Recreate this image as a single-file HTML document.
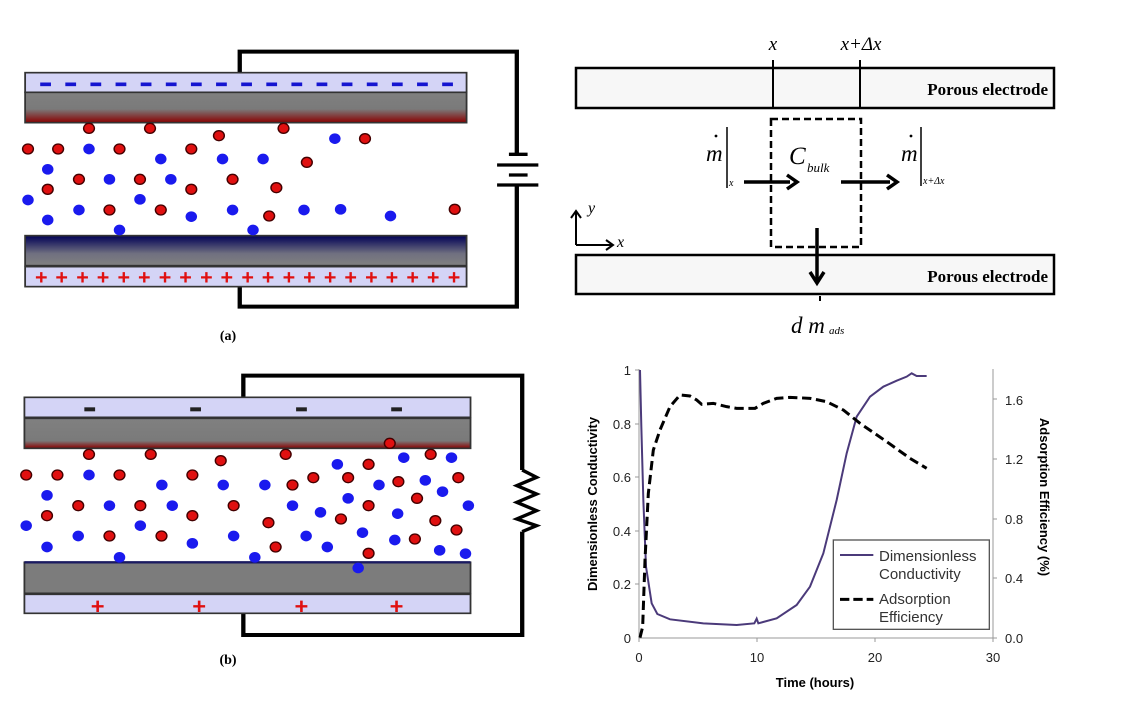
<!DOCTYPE html>
<html><head><meta charset="utf-8"><style>
html,body{margin:0;padding:0;background:#fff;}
svg{display:block;}
</style></head><body>
<svg width="1140" height="705" viewBox="0 0 1140 705" xmlns="http://www.w3.org/2000/svg">
<defs>
<linearGradient id="gr" x1="0" y1="0" x2="0" y2="1">
<stop offset="0" stop-color="#808080"/><stop offset="0.55" stop-color="#7a7a7a"/><stop offset="1" stop-color="#8a0000"/></linearGradient>
<linearGradient id="gb" x1="0" y1="0" x2="0" y2="1">
<stop offset="0" stop-color="#000055"/><stop offset="0.6" stop-color="#707080"/><stop offset="1" stop-color="#808080"/></linearGradient>
<linearGradient id="gr2" x1="0" y1="0" x2="0" y2="1">
<stop offset="0" stop-color="#808080"/><stop offset="0.75" stop-color="#7a7a7a"/><stop offset="1" stop-color="#8a0000"/></linearGradient>
</defs>

<g transform="translate(0,40) scale(0.3589,0.3333)">
<polyline points="668,98 668,35 1440,35 1440,343" fill="none" stroke="#000" stroke-width="12"/>
<polyline points="668,740 668,800 1440,800 1440,435" fill="none" stroke="#000" stroke-width="12"/>
<line x1="1418" y1="343" x2="1470" y2="343" stroke="#000" stroke-width="10"/>
<line x1="1385" y1="375" x2="1500" y2="375" stroke="#000" stroke-width="10"/>
<line x1="1418" y1="405" x2="1470" y2="405" stroke="#000" stroke-width="10"/>
<line x1="1385" y1="435" x2="1500" y2="435" stroke="#000" stroke-width="10"/>
<rect x="70" y="98" width="1230" height="59" fill="#d4d4f6" stroke="#333" stroke-width="5"/>
<rect x="70" y="157" width="1230" height="91" fill="url(#gr)" stroke="#333" stroke-width="5"/>
<g stroke="#1515d0" stroke-width="11">
<line x1="112" y1="133" x2="142" y2="133"/><line x1="182" y1="133" x2="212" y2="133"/><line x1="252" y1="133" x2="282" y2="133"/><line x1="322" y1="133" x2="352" y2="133"/><line x1="392" y1="133" x2="422" y2="133"/><line x1="462" y1="133" x2="492" y2="133"/><line x1="532" y1="133" x2="562" y2="133"/><line x1="602" y1="133" x2="632" y2="133"/><line x1="672" y1="133" x2="702" y2="133"/><line x1="742" y1="133" x2="772" y2="133"/><line x1="812" y1="133" x2="842" y2="133"/><line x1="882" y1="133" x2="912" y2="133"/><line x1="952" y1="133" x2="982" y2="133"/><line x1="1022" y1="133" x2="1052" y2="133"/><line x1="1092" y1="133" x2="1122" y2="133"/><line x1="1162" y1="133" x2="1192" y2="133"/><line x1="1232" y1="133" x2="1262" y2="133"/>
</g>
<rect x="70" y="587" width="1230" height="90" fill="url(#gb)" stroke="#333" stroke-width="5"/>
<rect x="70" y="680" width="1230" height="60" fill="#d4d4f6" stroke="#333" stroke-width="5"/>
<g fill="#e01010" font-family="Liberation Sans, sans-serif" font-weight="bold" font-size="60" text-anchor="middle">
<text x="115" y="732">+</text><text x="172" y="732">+</text><text x="230" y="732">+</text><text x="287" y="732">+</text><text x="345" y="732">+</text><text x="402" y="732">+</text><text x="460" y="732">+</text><text x="517" y="732">+</text><text x="575" y="732">+</text><text x="632" y="732">+</text><text x="690" y="732">+</text><text x="747" y="732">+</text><text x="805" y="732">+</text><text x="862" y="732">+</text><text x="920" y="732">+</text><text x="977" y="732">+</text><text x="1035" y="732">+</text><text x="1092" y="732">+</text><text x="1150" y="732">+</text><text x="1207" y="732">+</text><text x="1265" y="732">+</text>
</g>
<g fill="#1a1aee">
<ellipse cx="933" cy="296" rx="16" ry="16"/><ellipse cx="248" cy="327" rx="16" ry="16"/><ellipse cx="448" cy="357" rx="16" ry="16"/><ellipse cx="620" cy="357" rx="16" ry="16"/><ellipse cx="733" cy="357" rx="16" ry="16"/><ellipse cx="133" cy="388" rx="16" ry="16"/><ellipse cx="305" cy="418" rx="16" ry="16"/><ellipse cx="476" cy="418" rx="16" ry="16"/><ellipse cx="78" cy="480" rx="16" ry="16"/><ellipse cx="390" cy="478" rx="16" ry="16"/><ellipse cx="220" cy="510" rx="16" ry="16"/><ellipse cx="648" cy="510" rx="16" ry="16"/><ellipse cx="847" cy="510" rx="16" ry="16"/><ellipse cx="949" cy="508" rx="16" ry="16"/><ellipse cx="133" cy="540" rx="16" ry="16"/><ellipse cx="533" cy="530" rx="16" ry="16"/><ellipse cx="1088" cy="528" rx="16" ry="16"/><ellipse cx="333" cy="570" rx="16" ry="16"/><ellipse cx="705" cy="570" rx="16" ry="16"/>
</g>
<g fill="#e01010" stroke="#400" stroke-width="4">
<ellipse cx="248" cy="265" rx="15" ry="15"/><ellipse cx="418" cy="265" rx="15" ry="15"/><ellipse cx="790" cy="265" rx="15" ry="15"/><ellipse cx="610" cy="287" rx="15" ry="15"/><ellipse cx="1017" cy="296" rx="15" ry="15"/><ellipse cx="78" cy="327" rx="15" ry="15"/><ellipse cx="162" cy="327" rx="15" ry="15"/><ellipse cx="333" cy="327" rx="15" ry="15"/><ellipse cx="533" cy="327" rx="15" ry="15"/><ellipse cx="855" cy="367" rx="15" ry="15"/><ellipse cx="220" cy="418" rx="15" ry="15"/><ellipse cx="390" cy="418" rx="15" ry="15"/><ellipse cx="648" cy="418" rx="15" ry="15"/><ellipse cx="133" cy="448" rx="15" ry="15"/><ellipse cx="533" cy="448" rx="15" ry="15"/><ellipse cx="770" cy="443" rx="15" ry="15"/><ellipse cx="305" cy="510" rx="15" ry="15"/><ellipse cx="448" cy="510" rx="15" ry="15"/><ellipse cx="750" cy="528" rx="15" ry="15"/><ellipse cx="1267" cy="508" rx="15" ry="15"/>
</g>
</g>
<text x="228" y="340" font-family="Liberation Serif, serif" font-weight="bold" font-size="14" text-anchor="middle">(a)</text>

<g transform="translate(0,360) scale(0.3589,0.3333)">
<polyline points="678,112 678,47 1455,47 1455,330" fill="none" stroke="#000" stroke-width="12"/>
<polyline points="678,760 678,825 1455,825 1455,515" fill="none" stroke="#000" stroke-width="12"/>
<polyline points="1455,330 1495,352 1440,377 1495,402 1440,427 1495,452 1440,477 1495,497 1455,515" fill="none" stroke="#000" stroke-width="10"/>
<rect x="68" y="112" width="1243" height="60" fill="#d4d4f6" stroke="#333" stroke-width="5"/>
<rect x="68" y="175" width="1243" height="90" fill="url(#gr2)" stroke="#333" stroke-width="5"/>
<g stroke="#222" stroke-width="12">
<line x1="235" y1="148" x2="265" y2="148"/><line x1="530" y1="148" x2="560" y2="148"/><line x1="825" y1="148" x2="855" y2="148"/><line x1="1090" y1="148" x2="1120" y2="148"/>
</g>
<rect x="68" y="607" width="1243" height="93" fill="#7c7c7c" stroke="#333" stroke-width="5"/>
<line x1="68" y1="607" x2="1311" y2="607" stroke="#1a1a60" stroke-width="7"/>
<rect x="68" y="703" width="1243" height="57" fill="#d4d4f6" stroke="#333" stroke-width="5"/>
<g fill="#e01010" font-family="Liberation Sans, sans-serif" font-weight="bold" font-size="66" text-anchor="middle">
<text x="272" y="762">+</text><text x="555" y="762">+</text><text x="840" y="762">+</text><text x="1105" y="762">+</text>
</g>
<g fill="#1a1aee">
<ellipse cx="1125" cy="293" rx="16" ry="16"/><ellipse cx="1258" cy="293" rx="16" ry="16"/><ellipse cx="940" cy="313" rx="16" ry="16"/><ellipse cx="248" cy="345" rx="16" ry="16"/><ellipse cx="451" cy="375" rx="16" ry="16"/><ellipse cx="622" cy="375" rx="16" ry="16"/><ellipse cx="738" cy="375" rx="16" ry="16"/><ellipse cx="1056" cy="375" rx="16" ry="16"/><ellipse cx="1185" cy="361" rx="16" ry="16"/><ellipse cx="131" cy="406" rx="16" ry="16"/><ellipse cx="970" cy="415" rx="16" ry="16"/><ellipse cx="1233" cy="395" rx="16" ry="16"/><ellipse cx="305" cy="437" rx="16" ry="16"/><ellipse cx="480" cy="437" rx="16" ry="16"/><ellipse cx="815" cy="437" rx="16" ry="16"/><ellipse cx="1305" cy="437" rx="16" ry="16"/><ellipse cx="893" cy="457" rx="16" ry="16"/><ellipse cx="1108" cy="461" rx="16" ry="16"/><ellipse cx="73" cy="497" rx="16" ry="16"/><ellipse cx="391" cy="497" rx="16" ry="16"/><ellipse cx="1010" cy="518" rx="16" ry="16"/><ellipse cx="218" cy="528" rx="16" ry="16"/><ellipse cx="651" cy="528" rx="16" ry="16"/><ellipse cx="853" cy="528" rx="16" ry="16"/><ellipse cx="1100" cy="540" rx="16" ry="16"/><ellipse cx="131" cy="561" rx="16" ry="16"/><ellipse cx="536" cy="550" rx="16" ry="16"/><ellipse cx="912" cy="561" rx="16" ry="16"/><ellipse cx="1225" cy="571" rx="16" ry="16"/><ellipse cx="1297" cy="581" rx="16" ry="16"/><ellipse cx="333" cy="592" rx="16" ry="16"/><ellipse cx="710" cy="592" rx="16" ry="16"/><ellipse cx="998" cy="624" rx="16" ry="16"/>
</g>
<g fill="#e01010" stroke="#400" stroke-width="4">
<ellipse cx="248" cy="283" rx="15" ry="15"/><ellipse cx="420" cy="283" rx="15" ry="15"/><ellipse cx="796" cy="283" rx="15" ry="15"/><ellipse cx="1086" cy="250" rx="15" ry="15"/><ellipse cx="1200" cy="283" rx="15" ry="15"/><ellipse cx="615" cy="302" rx="15" ry="15"/><ellipse cx="1027" cy="313" rx="15" ry="15"/><ellipse cx="73" cy="345" rx="15" ry="15"/><ellipse cx="160" cy="345" rx="15" ry="15"/><ellipse cx="333" cy="345" rx="15" ry="15"/><ellipse cx="536" cy="345" rx="15" ry="15"/><ellipse cx="873" cy="353" rx="15" ry="15"/><ellipse cx="970" cy="353" rx="15" ry="15"/><ellipse cx="1110" cy="365" rx="15" ry="15"/><ellipse cx="1277" cy="353" rx="15" ry="15"/><ellipse cx="815" cy="375" rx="15" ry="15"/><ellipse cx="1162" cy="415" rx="15" ry="15"/><ellipse cx="218" cy="437" rx="15" ry="15"/><ellipse cx="391" cy="437" rx="15" ry="15"/><ellipse cx="651" cy="437" rx="15" ry="15"/><ellipse cx="1027" cy="437" rx="15" ry="15"/><ellipse cx="131" cy="467" rx="15" ry="15"/><ellipse cx="536" cy="467" rx="15" ry="15"/><ellipse cx="950" cy="477" rx="15" ry="15"/><ellipse cx="1213" cy="482" rx="15" ry="15"/><ellipse cx="748" cy="488" rx="15" ry="15"/><ellipse cx="1272" cy="510" rx="15" ry="15"/><ellipse cx="305" cy="528" rx="15" ry="15"/><ellipse cx="450" cy="528" rx="15" ry="15"/><ellipse cx="1156" cy="537" rx="15" ry="15"/><ellipse cx="768" cy="561" rx="15" ry="15"/><ellipse cx="1027" cy="580" rx="15" ry="15"/>
</g>
</g>
<text x="228" y="664" font-family="Liberation Serif, serif" font-weight="bold" font-size="14" text-anchor="middle">(b)</text>

<g font-family="Liberation Serif, serif">
<rect x="576" y="68" width="478" height="40" fill="#f7f7f7" stroke="#000" stroke-width="2.5"/>
<rect x="576" y="255" width="478" height="39" fill="#f7f7f7" stroke="#000" stroke-width="2.5"/>
<text x="1048" y="95" font-size="17" font-weight="bold" text-anchor="end">Porous electrode</text>
<text x="1048" y="282" font-size="17" font-weight="bold" text-anchor="end">Porous electrode</text>
<line x1="773" y1="60" x2="773" y2="108" stroke="#000" stroke-width="2"/>
<line x1="860" y1="60" x2="860" y2="108" stroke="#000" stroke-width="2"/>
<text x="773" y="50" font-size="19" font-style="italic" text-anchor="middle">x</text>
<text x="861" y="50" font-size="19" font-style="italic" text-anchor="middle">x+Δx</text>
<rect x="771" y="119" width="90" height="128" fill="none" stroke="#000" stroke-width="2.5" stroke-dasharray="7,4"/>
<text x="789" y="164" font-size="25" font-style="italic">C</text>
<text x="807" y="172" font-size="13" font-style="italic">bulk</text>
<text x="706" y="161" font-size="23" font-style="italic">m</text>
<circle cx="716" cy="136" r="1.4" fill="#000"/>
<line x1="727" y1="127" x2="727" y2="188" stroke="#000" stroke-width="1.5"/>
<text x="729" y="186" font-size="10" font-style="italic">x</text>
<line x1="744" y1="182" x2="790" y2="182" stroke="#000" stroke-width="3.5"/>
<polyline points="787,175 797,182 787,189" fill="none" stroke="#000" stroke-width="3.5"/>
<line x1="841" y1="182" x2="890" y2="182" stroke="#000" stroke-width="3.5"/>
<polyline points="887,175 897,182 887,189" fill="none" stroke="#000" stroke-width="3.5"/>
<text x="901" y="161" font-size="23" font-style="italic">m</text>
<circle cx="911" cy="136" r="1.4" fill="#000"/>
<line x1="921" y1="127" x2="921" y2="186" stroke="#000" stroke-width="1.5"/>
<text x="923" y="184" font-size="10" font-style="italic">x+Δx</text>
<line x1="817" y1="228" x2="817" y2="280" stroke="#000" stroke-width="3.5"/>
<polyline points="810,272 817,283 824,272" fill="none" stroke="#000" stroke-width="3.5"/>
<line x1="820" y1="296" x2="820" y2="301" stroke="#000" stroke-width="2"/>
<text x="791" y="333" font-size="23" font-style="italic">d m</text>
<text x="829" y="334" font-size="11" font-style="italic">ads</text>
<polyline points="576,245 576,212" fill="none" stroke="#000" stroke-width="2"/>
<polyline points="571,218 576,211 581,218" fill="none" stroke="#000" stroke-width="2"/>
<polyline points="576,245 612,245" fill="none" stroke="#000" stroke-width="2"/>
<polyline points="606,240 613,245 606,250" fill="none" stroke="#000" stroke-width="2"/>
<text x="588" y="213" font-size="16" font-style="italic">y</text>
<text x="617" y="247" font-size="16" font-style="italic">x</text>
</g>

<g font-family="Liberation Sans, sans-serif" font-size="13" fill="#222">
<line x1="639" y1="369" x2="639" y2="638" stroke="#999" stroke-width="1"/>
<line x1="639" y1="638" x2="993" y2="638" stroke="#999" stroke-width="1"/>
<line x1="993" y1="369" x2="993" y2="638" stroke="#999" stroke-width="1"/>
<g stroke="#999"><line x1="635" y1="370" x2="639" y2="370"/><line x1="635" y1="424" x2="639" y2="424"/><line x1="635" y1="477" x2="639" y2="477"/><line x1="635" y1="531" x2="639" y2="531"/><line x1="635" y1="584" x2="639" y2="584"/><line x1="993" y1="399" x2="997" y2="399"/><line x1="993" y1="459" x2="997" y2="459"/><line x1="993" y1="519" x2="997" y2="519"/><line x1="993" y1="578" x2="997" y2="578"/><line x1="993" y1="638" x2="997" y2="638"/><line x1="757" y1="638" x2="757" y2="642"/><line x1="875" y1="638" x2="875" y2="642"/><line x1="639" y1="638" x2="639" y2="642"/><line x1="993" y1="638" x2="993" y2="642"/></g>
<g text-anchor="end"><text x="631" y="375">1</text><text x="631" y="429">0.8</text><text x="631" y="482">0.6</text><text x="631" y="536">0.4</text><text x="631" y="589">0.2</text><text x="631" y="643">0</text></g>
<g><text x="1005" y="405">1.6</text><text x="1005" y="464">1.2</text><text x="1005" y="524">0.8</text><text x="1005" y="583">0.4</text><text x="1005" y="643">0.0</text></g>
<g text-anchor="middle"><text x="639" y="662">0</text><text x="757" y="662">10</text><text x="875" y="662">20</text><text x="993" y="662">30</text></g>
<text x="815" y="687" text-anchor="middle" font-weight="bold" font-size="13" fill="#000">Time (hours)</text>
<text transform="translate(597,504) rotate(-90)" text-anchor="middle" font-weight="bold" font-size="13" fill="#000">Dimensionless Conductivity</text>
<text transform="translate(1040,497) rotate(90)" text-anchor="middle" font-weight="bold" font-size="13" fill="#000">Adsorption Efficiency (%)</text>
<g transform="translate(570,360) scale(0.33333)">
<polyline fill="none" stroke="#4b3a7a" stroke-width="6" points="210,30 214,200 220,420 228,620 245,730 262,762 300,778 400,790 500,795 553,790 560,776 565,790 620,775 680,735 720,680 760,580 800,420 830,280 860,170 900,110 940,80 980,62 1010,50 1025,40 1040,48 1070,48"/>
<polyline fill="none" stroke="#000" stroke-width="9" stroke-dasharray="28,14" points="210,833 218,800 225,600 235,400 250,270 270,210 300,140 330,105 360,108 380,120 395,133 430,130 470,140 500,145 555,145 580,130 620,115 660,112 720,115 770,125 820,150 870,190 950,245 1020,295 1070,325"/>
<rect x="790" y="540" width="468" height="268" fill="#fff" stroke="#555" stroke-width="4"/>
<line x1="810" y1="585" x2="910" y2="585" stroke="#4b3a7a" stroke-width="6"/>
<line x1="810" y1="718" x2="910" y2="718" stroke="#000" stroke-width="9" stroke-dasharray="28,12"/>
</g>
<g font-size="15" fill="#333"><text x="879" y="561">Dimensionless</text><text x="879" y="579">Conductivity</text><text x="879" y="604">Adsorption</text><text x="879" y="622">Efficiency</text></g>
</g>
</svg>
</body></html>
